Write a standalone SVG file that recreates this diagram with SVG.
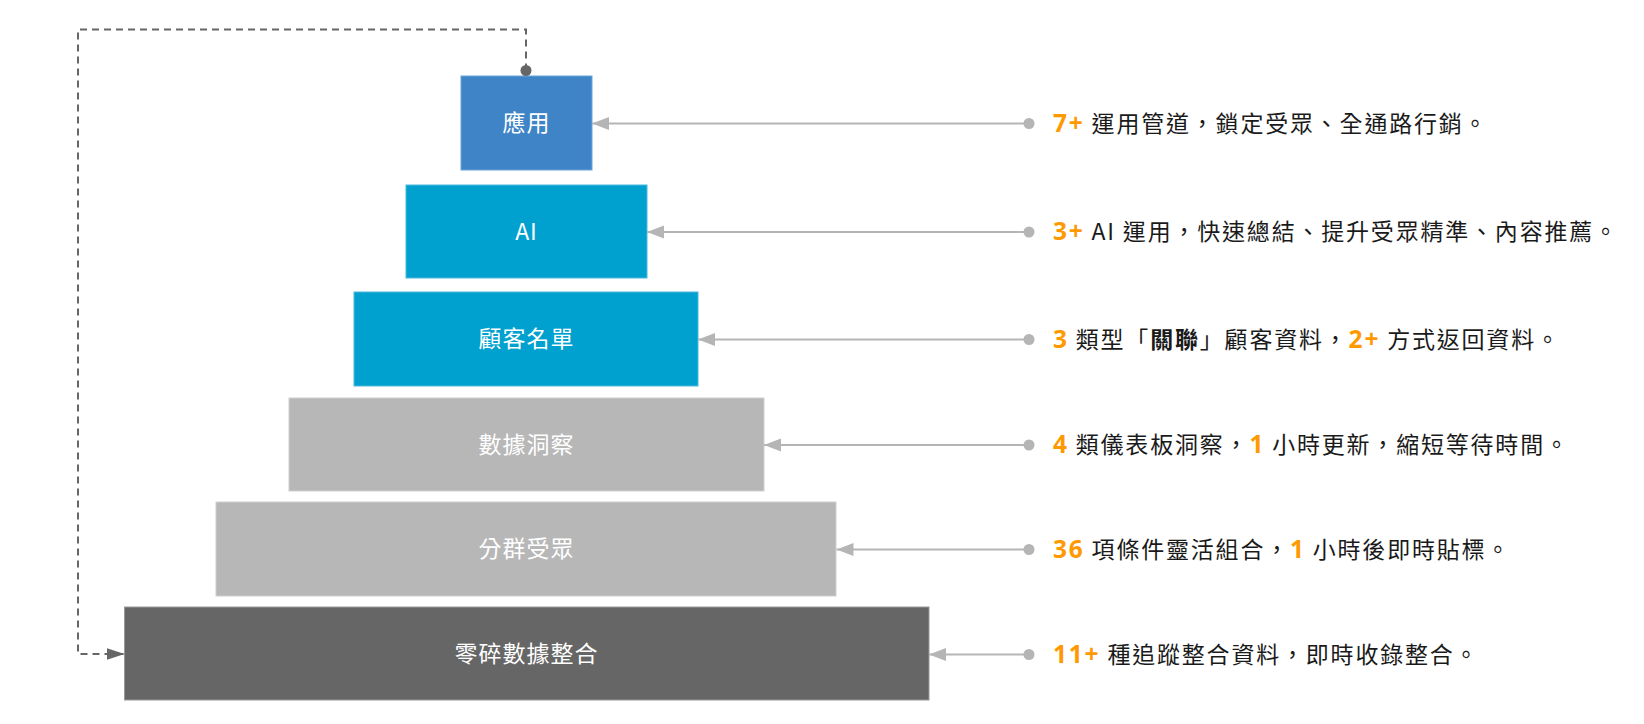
<svg xmlns="http://www.w3.org/2000/svg" width="1644" height="724" viewBox="0 0 1644 724">
<style>
.box-label{font-family:"Noto Sans CJK TC","Noto Sans",sans-serif;font-size:23px;fill:#ffffff;text-anchor:middle;letter-spacing:1px}
.note{font-family:"Noto Sans CJK TC","Noto Sans",sans-serif;font-size:23px;fill:#1a1a1a;letter-spacing:1.8px}
.num{font-family:"Open Sans","Noto Sans CJK TC",sans-serif;font-weight:bold;fill:#ff9900;font-size:24.5px}
.b{font-weight:bold}
.link{fill:none;stroke:#b5b5b5;stroke-width:2;marker-start:url(#dotGray);marker-end:url(#arrowGray)}
.loop{fill:none;stroke:#666666;stroke-width:2;stroke-dasharray:7 5;marker-start:url(#dotDark);marker-end:url(#arrowDark)}
</style>
<defs>
<marker id="arrowGray" markerUnits="userSpaceOnUse" markerWidth="18" markerHeight="14" refX="17" refY="6.5" orient="auto">
<path d="M0,0 L17,6.5 L0,13 z" fill="#b5b5b5" stroke="none"/>
</marker>
<marker id="dotGray" markerUnits="userSpaceOnUse" markerWidth="12" markerHeight="12" refX="6" refY="6" orient="auto">
<circle cx="6" cy="6" r="5.5" fill="#b5b5b5" stroke="none"/>
</marker>
<marker id="arrowDark" markerUnits="userSpaceOnUse" markerWidth="19" markerHeight="13" refX="18" refY="6" orient="auto">
<path d="M0,0 L18,6 L0,12 z" fill="#666666" stroke="none"/>
</marker>
<marker id="dotDark" markerUnits="userSpaceOnUse" markerWidth="12" markerHeight="12" refX="6" refY="6" orient="auto">
<circle cx="6" cy="6" r="5.5" fill="#666666" stroke="none"/>
</marker>
</defs>
<rect width="1644" height="724" fill="#ffffff"/>

<g id="node-app">
<rect x="461" y="76" width="131" height="94" fill="#3f84c6" stroke="#6aa5d9" stroke-width="1"/>
<text class="box-label" x="526.5" y="131">應用</text>
</g>
<g id="node-ai">
<rect x="406" y="185" width="241" height="93" fill="#00a0cf" stroke="#4db8dd" stroke-width="1"/>
<text class="box-label" x="526.5" y="239.5">AI</text>
</g>
<g id="node-customer">
<rect x="354" y="292" width="344" height="94" fill="#00a0cf" stroke="#4db8dd" stroke-width="1"/>
<text class="box-label" x="526.5" y="347">顧客名單</text>
</g>
<g id="node-insight">
<rect x="289" y="398" width="475" height="93" fill="#b7b7b7" stroke="#cfcfcf" stroke-width="1"/>
<text class="box-label" x="526.5" y="452.5">數據洞察</text>
</g>
<g id="node-segment">
<rect x="216" y="502" width="620" height="94" fill="#b7b7b7" stroke="#cfcfcf" stroke-width="1"/>
<text class="box-label" x="526.5" y="557">分群受眾</text>
</g>
<g id="node-data">
<rect x="124.5" y="607" width="804.5" height="93" fill="#666666" stroke="#999999" stroke-width="1"/>
<text class="box-label" x="526.5" y="661.5">零碎數據整合</text>
</g>

<g id="connectors">
<path class="loop" d="M526,70.5 V29.5 H78 V654 H124.5"/>
<path class="link" d="M1029,123.5 H592"/>
<path class="link" d="M1029,232 H647"/>
<path class="link" d="M1029,339.5 H698"/>
<path class="link" d="M1029,445 H764"/>
<path class="link" d="M1029,549.5 H836.5"/>
<path class="link" d="M1029,654.5 H929"/>
</g>

<g id="note-app">
<text class="note" x="1053" y="131.5"><tspan class="num">7+</tspan> 運用管道，鎖定受眾、全通路行銷。</text>
</g>
<g id="note-ai">
<text class="note" x="1053" y="240"><tspan class="num">3+</tspan> AI 運用，快速總結、提升受眾精準、內容推薦。</text>
</g>
<g id="note-customer">
<text class="note" x="1053" y="347.5"><tspan class="num">3</tspan> 類型「<tspan class="b">關聯</tspan>」顧客資料，<tspan class="num">2+</tspan> 方式返回資料。</text>
</g>
<g id="note-insight">
<text class="note" x="1053" y="453"><tspan class="num">4</tspan> 類儀表板洞察，<tspan class="num">1</tspan> 小時更新，縮短等待時間。</text>
</g>
<g id="note-segment">
<text class="note" x="1053" y="557.5"><tspan class="num">36</tspan> 項條件靈活組合，<tspan class="num">1</tspan> 小時後即時貼標。</text>
</g>
<g id="note-data">
<text class="note" x="1053" y="662.5"><tspan class="num">11+</tspan> 種追蹤整合資料，即時收錄整合。</text>
</g>
</svg>
